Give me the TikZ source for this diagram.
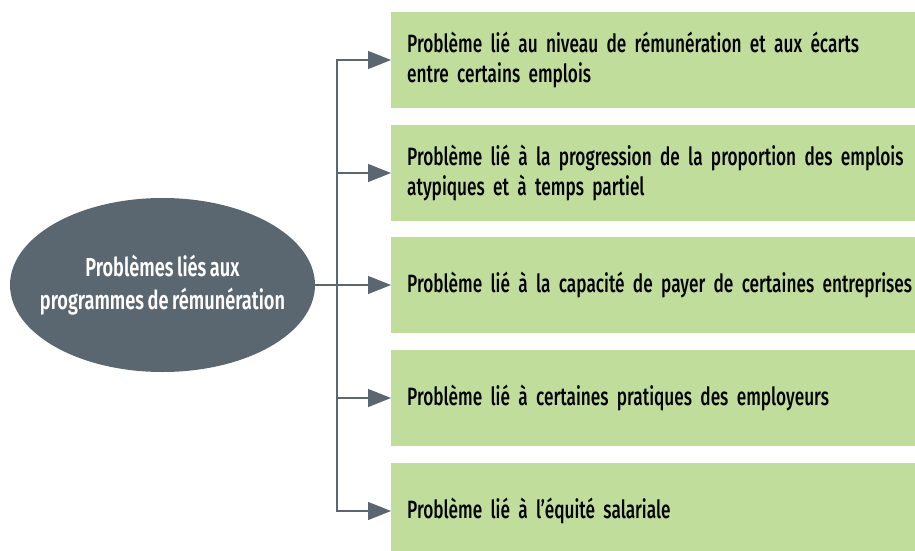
\documentclass[tikz,border=0pt]{standalone}
\usepackage{fontspec}
\setmainfont[FakeStretch=0.69,WordSpace=0.75]{Fira Sans Medium}
\newfontfamily\boldcond[FakeStretch=0.7,WordSpace=0.8]{Fira Sans SemiBold}
\usetikzlibrary{arrows.meta,shapes.geometric}
\definecolor{boxgreen}{RGB}{192,221,156}
\definecolor{slate}{RGB}{91,103,112}
\begin{document}
\begin{tikzpicture}[x=1pt,y=-1pt,
  itembox/.style={fill=boxgreen, draw=none, anchor=west, text width=560pt, inner xsep=16pt, inner ysep=0pt, minimum height=96pt, align=left, text=black, font=\fontsize{25}{30}\selectfont},
  conn/.style={draw=slate, line width=1.1pt},
  tipconn/.style={conn, -{Triangle[length=23pt,width=18pt]}}]
\useasboundingbox (0,0) rectangle (915,551);
\clip (0,0) rectangle (915,551);
\node[ellipse, fill=slate, minimum width=305pt, minimum height=174pt, inner sep=0pt] (ell) at (162.5,285) {};
\node[text=white, align=center, font=\boldcond\fontsize{26}{33}\selectfont] (ellt) at (ell.center) {Problèmes liés aux\\programmes de rémunération};
\node[itembox] (b1) at (391,60) {Problème lié au niveau de rémunération et aux écarts\\entre certains emplois};
\node[itembox] (b2) at (391,173) {Problème lié à la progression de la proportion des emplois\\atypiques et à temps partiel};
\node[itembox] (b3) at (391,285) {Problème lié à la capacité de payer de certaines entreprises};
\node[itembox] (b4) at (391,398) {Problème lié à certaines pratiques des employeurs};
\node[itembox] (b5) at (391,511) {Problème lié à l’équité salariale};
\coordinate (j) at (337,285);
\draw[conn] (ell.east) -- (j);
\foreach \b in {b1,b2,b3,b4,b5}{
  \draw[tipconn] (j) |- (\b.west);
}
\end{tikzpicture}
\end{document}
